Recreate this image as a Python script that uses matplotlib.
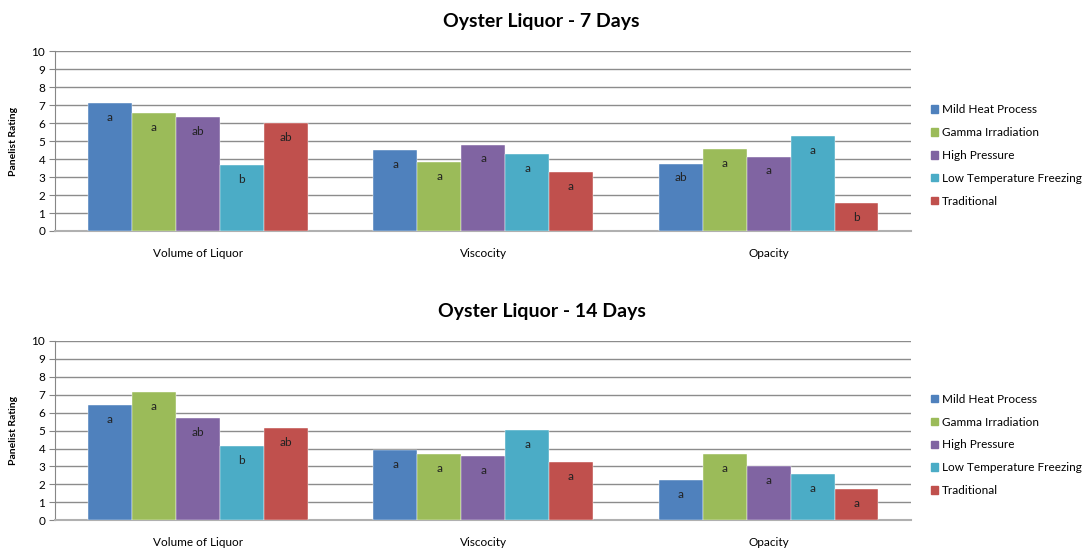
import numpy as np
import matplotlib
matplotlib.use('Agg')
from matplotlib import pyplot as plt
from matplotlib.patches import Patch

plt.rcParams['font.family'] = ['Lato', 'DejaVu Sans']

categories = ['Volume of Liquor', 'Viscocity', 'Opacity']
treatments = ['Mild Heat Process', 'Gamma Irradiation', 'High Pressure',
              'Low Temperature Freezing', 'Traditional']
colors = ['#4F81BD', '#9BBB59', '#8064A2', '#4BACC6', '#C0504D']

# ratings per treatment, order: volume, viscocity, opacity
days7 = [[7.12, 4.50, 3.75],
         [6.56, 3.85, 4.55],
         [6.32, 4.81, 4.14],
         [3.68, 4.28, 5.26],
         [5.98, 3.27, 1.54]]
letters7 = [['a', 'a', 'ab'],
            ['a', 'a', 'a'],
            ['ab', 'a', 'a'],
            ['b', 'a', 'a'],
            ['ab', 'a', 'b']]

days14 = [[6.42, 3.93, 2.23],
          [7.14, 3.69, 3.71],
          [5.71, 3.56, 3.01],
          [4.14, 5.01, 2.58],
          [5.12, 3.23, 1.73]]
letters14 = [['a', 'a', 'a'],
             ['a', 'a', 'a'],
             ['ab', 'a', 'a'],
             ['b', 'a', 'a'],
             ['ab', 'a', 'a']]

titles = ['Oyster Liquor - 7 Days', 'Oyster Liquor - 14 Days']

fig = plt.figure(figsize=(10.84, 5.48), dpi=100)

def draw(ax, data, letters, title, title_y):
    x = np.arange(len(categories))
    w = 0.154
    for i in range(len(treatments)):
        pos = x + (i - 2) * w
        ax.bar(pos, data[i], w, color=colors[i], label=treatments[i],
               edgecolor='white', linewidth=0.3, zorder=3)
        for j in range(len(categories)):
            ax.text(pos[j], data[i][j] - 0.8, letters[i][j], ha='center',
                    va='center', fontsize=8.5, color='#222222', zorder=4)
    ax.set_xlim(-0.5, 2.5)
    ax.set_ylim(0, 10)
    ax.set_yticks(range(0, 11))
    ax.set_xticks(x)
    ax.set_xticklabels(categories)
    ax.tick_params(axis='x', length=0, pad=12, labelsize=8.5)
    ax.tick_params(axis='y', length=4, color='#868686', labelsize=8.5, pad=3)
    ax.yaxis.grid(True, color='#8c8c8c', linewidth=1.0, zorder=0)
    for s in ['top', 'right']:
        ax.spines[s].set_visible(False)
    ax.spines['left'].set_color('#868686')
    ax.spines['bottom'].set_color('#b0b0b0')
    ax.spines['bottom'].set_linewidth(1.5)
    ax.set_ylabel('Panelist Rating', fontsize=7.5, fontweight='bold', labelpad=10)
    fig.text(0.4995, title_y, title, ha='center', va='center',
             fontsize=14, fontweight='bold')
    handles = [Patch(color=c) for c in colors]
    ax.legend(handles, treatments, loc='center left', bbox_to_anchor=(1.01, 0.42),
              frameon=False, fontsize=8.5, handlelength=0.6, handleheight=0.6,
              handletextpad=0.4, labelspacing=1.0)

ax1 = fig.add_axes([0.0507, 0.5785, 0.790, 0.328])
draw(ax1, days7, letters7, titles[0], 1 - 22 / 548)
ax2 = fig.add_axes([0.0507, 0.0505, 0.790, 0.3275])
draw(ax2, days14, letters14, titles[1], 1 - 312 / 548)

fig.savefig('out.png', dpi=100)
